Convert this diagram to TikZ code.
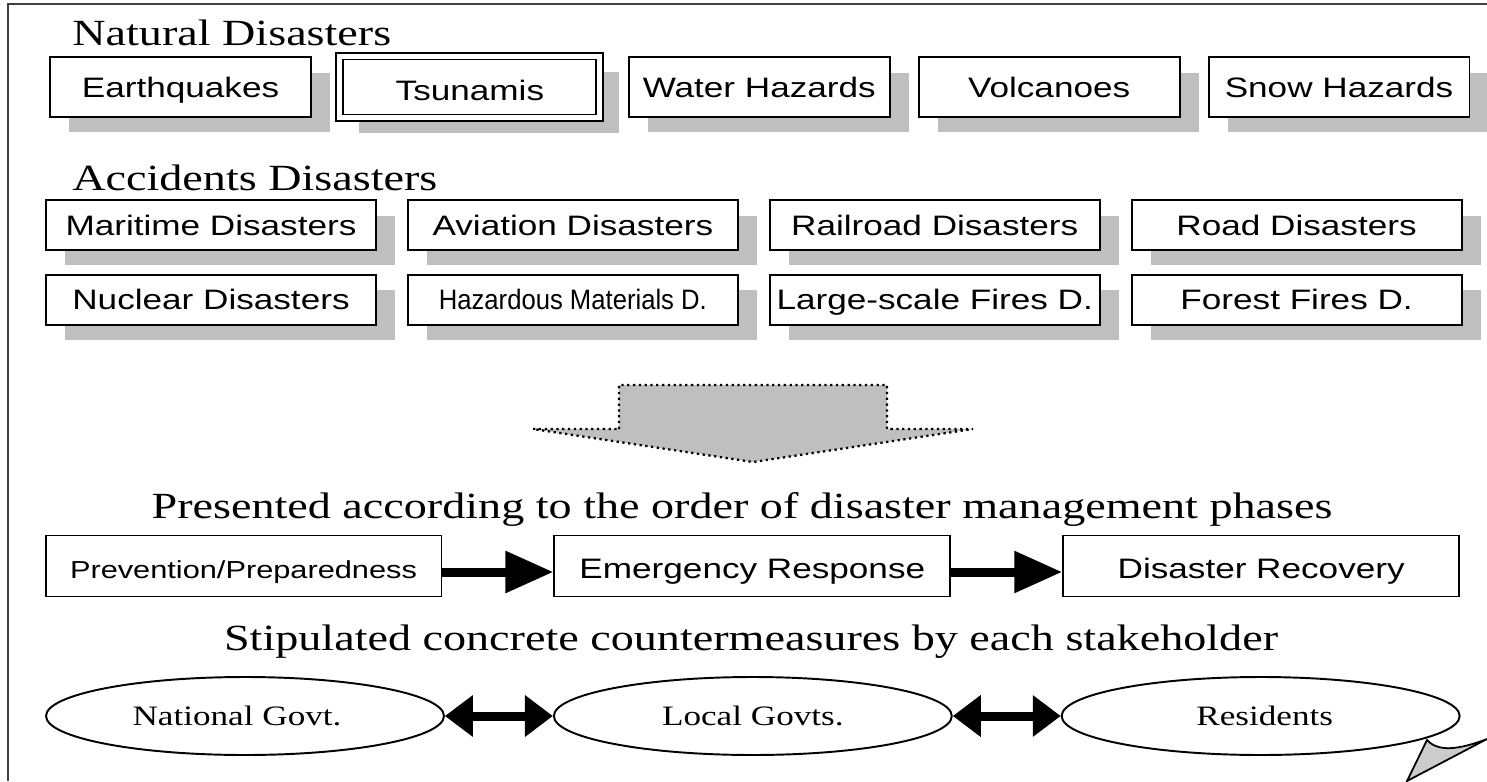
\documentclass[tikz,border=0pt]{standalone}
\usepackage{fontspec}
\setmainfont{Liberation Serif}[FakeStretch=1.25]
\setsansfont{Liberation Sans}[FakeStretch=1.25]
\usepackage{tikz}
\usetikzlibrary{arrows.meta, positioning, shadows, shapes.geometric}
\newcommand{\boxfont}{\sffamily\fontsize{16}{19}\selectfont}
\newcommand{\headfont}{\rmfamily\fontsize{21}{25}\selectfont}
\newcommand{\ovalfont}{\rmfamily\fontsize{16}{19}\selectfont}

\begin{document}
\begin{tikzpicture}[x=0.02cm, y=-0.02cm,
    hazbox/.style={draw, fill=white, line width=1.1pt, inner sep=0pt, minimum width=5.22cm, minimum height=1.2cm, font=\boxfont,
      text height=0.5cm, text depth=0.1cm,
      general shadow={fill=black!25, shadow xshift=0.38cm, shadow yshift=-0.31cm}},
    accbox/.style={hazbox, minimum width=6.6cm, minimum height=1cm},
    phasebox/.style={draw, fill=white, line width=1.1pt, inner sep=0pt, minimum width=7.92cm, minimum height=1.22cm, font=\boxfont,
      text height=0.5cm, text depth=0.02cm},
    actor/.style={draw, ellipse, line width=1.1pt, inner sep=0pt, minimum width=7.96cm, minimum height=1.56cm, font=\ovalfont},
    ttl/.style={font=\headfont, inner sep=0pt},
    phasearrow/.style={line width=0.18cm, -{Triangle[length=0.96cm, width=0.8cm]}},
    linkarrow/.style={line width=0.18cm, {Triangle[length=0.56cm, width=0.8cm]}-{Triangle[length=0.56cm, width=0.8cm]}}]
    \useasboundingbox (0,0) rectangle (1487,781);
    % frame
    \draw[line width=1.2pt, black!75] (8,781) -- (8,4) -- (1487,4);
    % natural disasters
    \node[ttl, anchor=base west] (natural) at (72,45) {Natural Disasters};
    \node[hazbox] (quake) at (180.5,87) {Earthquakes};
    \node[hazbox, right=0.54cm of quake, double, double distance=0.1cm, line width=1.1pt, minimum width=5.2cm, minimum height=1.24cm] (tsunami) {\raisebox{-0.08cm}{Tsunamis}};
    \node[hazbox, right=0.54cm of tsunami] (water) {Water Hazards};
    \node[hazbox, right=0.54cm of water] (volcano) {Volcanoes};
    \node[hazbox, right=0.54cm of volcano] (snow) {Snow Hazards};
    % accidents disasters
    \node[ttl, anchor=base west] (accident) at (72,190) {Accidents Disasters};
    \node[accbox] (maritime) at (211,225) {Maritime Disasters};
    \node[accbox, right=0.6cm of maritime] (aviation) {Aviation Disasters};
    \node[accbox, right=0.6cm of aviation] (railroad) {Railroad Disasters};
    \node[accbox, right=0.6cm of railroad] (road) {Road Disasters};
    \node[accbox, below=0.46cm of maritime] (nuclear) {Nuclear Disasters};
    \node[accbox, below=0.46cm of aviation] (hazmat) {\scalebox{0.73}[1]{Hazardous Materials D.}};
    \node[accbox, below=0.46cm of railroad] (fire) {Large-scale Fires D.};
    \node[accbox, below=0.46cm of road] (forest) {Forest Fires D.};
    % big arrow
    \draw[fill=black!25, dotted, line width=1.3pt] (619,429) -- (619,385) -- (887,385) -- (887,429) -- (973,429) -- (753,462) -- (533,429) -- cycle;
    % phases
    \node[ttl, anchor=base] (order) at (742,518) {Presented according to the order of disaster management phases};
    \node[phasebox] (prevent) at (243.5,566) {\fontsize{14}{17}\selectfont Prevention/Preparedness};
    \node[phasebox, right=2.22cm of prevent] (emergency) {Emergency Response};
    \node[phasebox, right=2.22cm of emergency] (recovery) {Disaster Recovery};
    \draw[phasearrow] ([yshift=-0.12cm]prevent.east) -- ([yshift=-0.12cm]emergency.west);
    \draw[phasearrow] ([yshift=-0.12cm]emergency.east) -- ([yshift=-0.12cm]recovery.west);
    % stakeholders
    \node[ttl, anchor=base] (stake) at (751,650) {Stipulated concrete countermeasures by each stakeholder};
    \node[actor] (national) at (245,716) {\hspace*{-0.32cm}National Govt.};
    \node[actor, right=2.16cm of national] (local) {Local Govts.};
    \node[actor, right=2.16cm of local] (resident) {\hspace*{0.16cm}Residents};
    \draw[linkarrow] (national) -- (local);
    \draw[linkarrow] (local) -- (resident);
    % page curl
    \draw[fill=black!20, line width=1pt] (1427,740) .. controls (1438,752) and (1458,750) .. (1487,739) -- (1407,781) -- cycle;
\end{tikzpicture}
\end{document}
